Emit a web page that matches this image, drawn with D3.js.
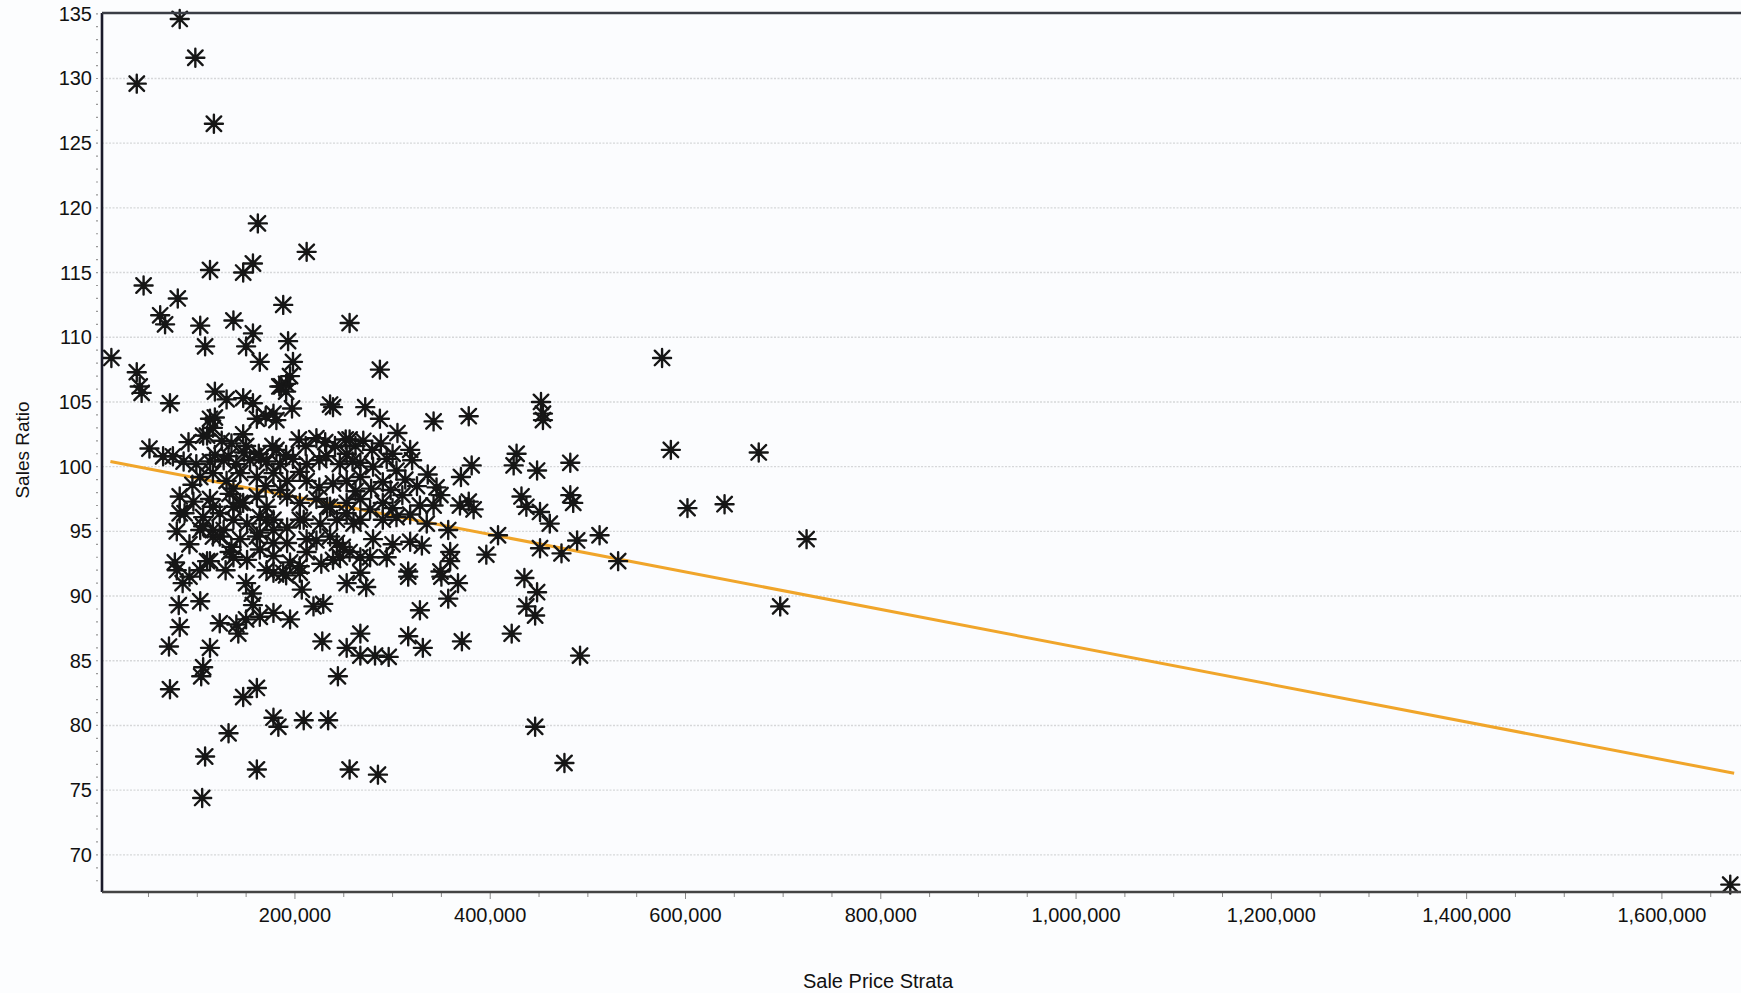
<!DOCTYPE html>
<html>
<head>
<meta charset="utf-8">
<script src="https://cdn.jsdelivr.net/npm/d3@7"></script>
<style>
  html, body { margin: 0; padding: 0; background: #fcfdfe; }
  svg { display: block; }
  text { font-family: "Liberation Sans", Arial, sans-serif; fill: #111; }
</style>
</head>
<body>
<div id="chart"></div>
<script>
// ---- Data (sale price in thousands of dollars, sales ratio in %) ----
const yTickValues = [70, 75, 80, 85, 90, 95, 100, 105, 110, 115, 120, 125, 130, 135];
const xTickValues = [200000, 400000, 600000, 800000, 1000000, 1200000, 1400000, 1600000];
const xTickLabels = ["200,000", "400,000", "600,000", "800,000", "1,000,000", "1,200,000", "1,400,000", "1,600,000"];

// trend line end points
const trendPrice = [11000, 1674000];
const trendRatio = [100.4, 76.3];

const pointsHigh = [
  [82,134.6],[38,129.6],[98,131.6],[117,126.5],[162,118.8],[212,116.6],[113,115.2],[147,115.0],[157,115.7],
  [45,114.0],[80,113.0],[188,112.5],[62,111.7],[67,111.0],[103,110.9],[137,111.3],[256,111.1],[157,110.3],
  [108,109.3],[193,109.7],[150,109.3],[12,108.4],[164,108.1],[198,108.1],[287,107.5],[38,107.3],[195,107.0],
  [191,106.4],[186,106.2],[41,106.2],[43,105.7],[72,104.9],[118,105.8],[130,105.2],[147,105.3],[157,104.9],
  [236,104.8],[272,104.6],[452,105.0],[576,108.4],[191,105.8],[184,106.2]
];
const points104 = [
  [113,103.7],[161,103.7],[178,104.1],[181,103.6],[197,104.5],[239,104.6],[287,103.7],[342,103.5],[378,103.9],
  [454,104.1],[454,103.6],[118,103.8],[170,103.9]
];
const points102 = [
  [106,102.4],[91,101.9],[110,102.4],[116,103.0],[147,102.5],[150,101.6],[163,101.0],[177,101.6],[181,101.3],
  [204,102.1],[211,101.6],[231,101.9],[252,102.1],[262,101.6],[256,102.1],[305,102.6],[51,101.4],[65,100.8],
  [279,101.3],[318,101.3],[253,101.0],[427,101.0],[585,101.3],[675,101.1],[241,101.6],[222,102.2],[270,102.0],
  [288,101.8],[135,101.8],[125,102.0]
];
const points100 = [
  [86,100.4],[99,100.2],[113,100.4],[127,100.5],[140,100.2],[154,100.5],[171,100.4],[185,100.2],[198,100.6],
  [212,100.2],[225,100.5],[246,100.2],[259,100.4],[267,100.3],[280,100.0],[294,100.6],[304,99.7],[320,100.5],
  [336,99.4],[381,100.1],[424,100.1],[448,99.7],[482,100.3],[118,100.9],[132,100.8],[148,101.1],[165,100.7],
  [191,100.9],[232,100.8],[300,101.0],[75,100.8]
];
const points98 = [
  [103,99.2],[116,99.5],[130,98.9],[144,99.5],[161,99.2],[178,99.5],[192,98.9],[212,98.9],[225,98.4],[239,98.7],
  [253,98.9],[313,99.0],[267,99.2],[290,98.8],[370,99.2],[95,98.6],[137,98.3],[170,98.5],[205,99.6],[185,98.2],
  [325,98.5],[345,98.4],[298,98.2],[262,98.1],[278,98.3]
];
const points97 = [
  [82,97.7],[113,97.5],[133,97.9],[147,97.2],[161,97.7],[171,96.9],[192,97.7],[205,97.2],[222,97.5],[236,96.9],
  [253,97.2],[328,97.0],[349,97.8],[342,97.0],[378,97.3],[383,96.7],[369,97.0],[432,97.7],[437,96.9],[451,96.5],
  [482,97.8],[485,97.2],[602,96.8],[640,97.1],[116,96.9],[137,96.9],[144,97.2],[233,96.9],[267,97.5],[290,97.2],
  [310,97.8],[300,96.8],[96,97.3]
];
const points95 = [
  [82,96.4],[87,96.4],[106,96.1],[123,96.4],[137,95.9],[151,95.6],[164,96.1],[178,95.9],[192,95.3],[209,95.9],
  [226,95.6],[243,95.9],[260,95.6],[253,96.4],[267,95.9],[277,96.7],[290,95.9],[304,96.1],[461,95.6],[79,95.0],
  [103,95.1],[106,95.4],[116,95.1],[127,95.1],[171,95.9],[205,95.9],[357,95.1],[318,96.3],[335,95.6]
];
const points94 = [
  [116,94.6],[123,94.6],[144,94.4],[161,94.6],[164,94.9],[178,95.1],[178,94.1],[192,94.1],[212,94.4],[222,94.3],
  [236,94.6],[243,94.1],[249,93.8],[318,94.2],[408,94.7],[451,93.7],[489,94.3],[512,94.7],[724,94.4],[92,94.0],
  [135,93.8],[280,94.4],[300,94.0],[330,93.9]
];
const points92 = [
  [77,92.6],[110,92.7],[113,92.7],[133,93.4],[137,93.0],[151,92.8],[164,93.6],[178,93.1],[195,92.6],[205,92.3],
  [212,93.4],[239,92.8],[246,93.0],[256,93.4],[267,93.0],[277,93.0],[294,93.0],[359,93.4],[359,92.7],[396,93.2],
  [473,93.3],[531,92.7],[171,92.0],[188,91.8],[267,91.8],[316,91.9],[349,91.9],[79,92.0],[103,92.0],[129,92.0],
  [227,92.5]
];
const points90 = [
  [85,91.0],[150,91.0],[156,90.2],[178,91.8],[191,91.6],[205,91.8],[207,90.5],[253,91.0],[273,90.7],[316,91.5],
  [350,91.5],[367,91.0],[435,91.4],[448,90.3],[92,91.5]
];
const points88 = [
  [81,89.3],[103,89.6],[157,89.3],[219,89.2],[229,89.4],[357,89.8],[328,88.9],[437,89.2],[446,88.5],[697,89.2],
  [123,87.9],[140,87.8],[150,88.2],[164,88.4],[178,88.7],[195,88.2],[82,87.6]
];
const points86 = [
  [142,87.1],[71,86.1],[113,86.0],[228,86.5],[253,86.0],[267,87.1],[316,86.9],[331,86.0],[371,86.5],[422,87.1],
  [267,85.4],[282,85.4],[296,85.3],[492,85.4]
];
const pointsLow = [
  [106,84.5],[104,83.8],[244,83.8],[72,82.8],[147,82.2],[161,82.9],[132,79.4],[178,80.6],[183,79.9],[209,80.4],
  [234,80.4],[446,79.9],[476,77.1],[108,77.6],[161,76.6],[256,76.6],[285,76.2],[105,74.4],[1670,67.7]
];

const salePoints = [].concat(pointsHigh, points104, points102, points100, points98, points97, points95,
  points94, points92, points90, points88, points86, pointsLow);

// ---- Layout ----
const W = 1741, H = 993;
const mLeft = 102, mRight = 1741, mTop = 13, mBottom = 892;

const svg = d3.select("#chart").append("svg").attr("width", W).attr("height", H);

const x = d3.scaleLinear().domain([2400, 1681000]).range([mLeft, mRight]);
const y = d3.scaleLinear().domain([67.13, 135.06]).range([mBottom, mTop]);

// plot background
svg.append("rect").attr("x", mLeft).attr("y", mTop).attr("width", mRight - mLeft).attr("height", mBottom - mTop)
  .attr("fill", "#fbfcfe");

// gridlines
svg.append("g").selectAll("line").data(yTickValues.filter(v => v < 135)).join("line")
  .attr("x1", mLeft).attr("x2", mRight)
  .attr("y1", d => y(d)).attr("y2", d => y(d))
  .attr("stroke", "#d6d7d9").attr("stroke-width", 1.4).attr("stroke-dasharray", "2,1.5");

// y axis minor ticks (every unit)
const yMinor = d3.range(68, 136, 1);
svg.append("g").selectAll("line").data(yMinor).join("line")
  .attr("x1", mLeft - 6).attr("x2", mLeft - 4)
  .attr("y1", d => y(d)).attr("y2", d => y(d))
  .attr("stroke", "#999").attr("stroke-width", 1.2);

// x axis minor ticks (every 50,000)
const xMinor = d3.range(50000, 1681000, 50000);
svg.append("g").selectAll("line").data(xMinor).join("line")
  .attr("x1", d => x(d)).attr("x2", d => x(d))
  .attr("y1", mBottom + 1).attr("y2", d => (d % 200000 === 0 ? mBottom + 7 : mBottom + 5))
  .attr("stroke", "#888").attr("stroke-width", 1);

// y axis labels
svg.append("g").selectAll("text").data(yTickValues).join("text")
  .attr("x", mLeft - 10).attr("y", d => y(d) + 7)
  .attr("text-anchor", "end").attr("font-size", 20)
  .text(d => d);

// x axis labels
svg.append("g").selectAll("text").data(xTickValues).join("text")
  .attr("x", d => x(d)).attr("y", mBottom + 30)
  .attr("text-anchor", "middle").attr("font-size", 20)
  .text((d, i) => xTickLabels[i]);

// axis titles
svg.append("text").attr("x", 878).attr("y", 988).attr("text-anchor", "middle").attr("font-size", 20)
  .text("Sale Price Strata");
svg.append("text").attr("transform", "translate(29,450) rotate(-90)").attr("text-anchor", "middle")
  .attr("font-size", 19).text("Sales Ratio");

// trend line
const trend = trendPrice.map((p, i) => [p, trendRatio[i]]);
svg.append("path").datum(trend)
  .attr("d", d3.line().x(d => x(d[0])).y(d => y(d[1])))
  .attr("fill", "none").attr("stroke", "#f0a52a").attr("stroke-width", 3);

// asterisk markers
const r = 9, dd = 7.3;
const star = `M${-r},0H${r}M0,${-r}V${r}M${-dd},${-dd}L${dd},${dd}M${-dd},${dd}L${dd},${-dd}`;
svg.append("clipPath").attr("id", "plotclip").append("rect")
  .attr("x", mLeft - 20).attr("y", 0).attr("width", mRight - mLeft + 20).attr("height", H);
svg.append("g").attr("clip-path", "url(#plotclip)").selectAll("path").data(salePoints).join("path")
  .attr("transform", d => `translate(${x(d[0] * 1000)},${y(d[1])})`)
  .attr("d", star)
  .attr("fill", "none").attr("stroke", "#161616").attr("stroke-width", 2.4)
  .attr("stroke-linecap", "round");

// axes lines
svg.append("line").attr("x1", mLeft).attr("x2", mLeft).attr("y1", mTop).attr("y2", mBottom)
  .attr("stroke", "#1a1a2a").attr("stroke-width", 2.6);
svg.append("line").attr("x1", mLeft).attr("x2", mRight).attr("y1", mBottom).attr("y2", mBottom)
  .attr("stroke", "#444").attr("stroke-width", 2.6);
svg.append("line").attr("x1", mLeft).attr("x2", mRight).attr("y1", mTop).attr("y2", mTop)
  .attr("stroke", "#3a3d45").attr("stroke-width", 2.4);
</script>
</body>
</html>
